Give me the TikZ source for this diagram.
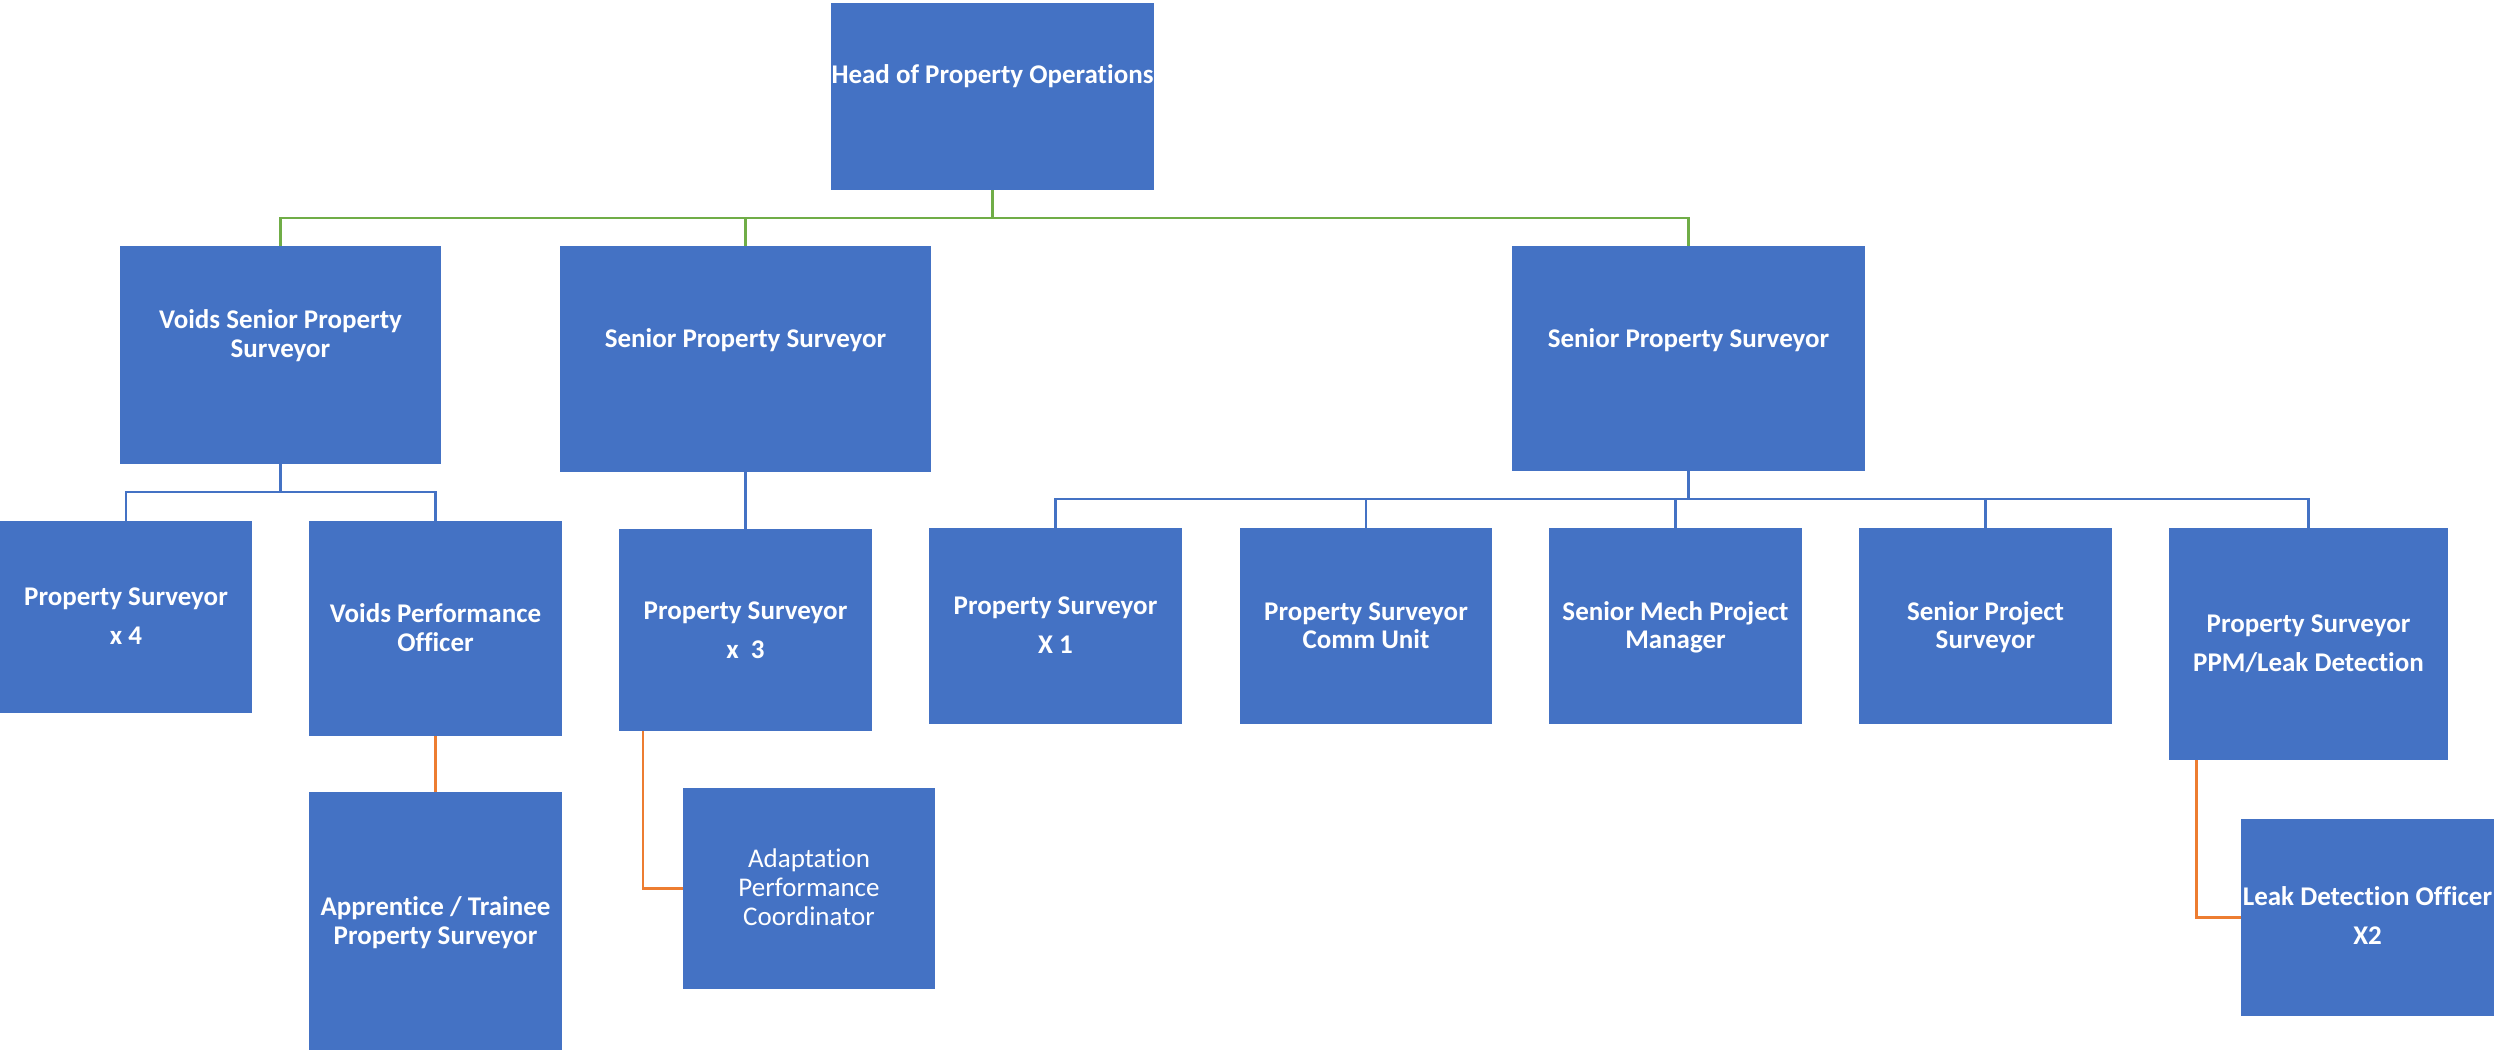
\documentclass[tikz,border=0pt]{standalone}
\usepackage{fontspec}
\setmainfont{Carlito}[Ligatures=NoCommon]
\definecolor{boxblue}{HTML}{4472C4}
\definecolor{lgreen}{HTML}{70AD47}
\definecolor{lorange}{HTML}{ED7D31}
\begin{document}
\begin{tikzpicture}[x=1pt,y=-1pt,
  box/.style={fill=boxblue,draw=none,inner sep=0pt,outer sep=0pt},
  txt/.style={text=white,align=center,anchor=base,inner sep=0pt,font=\fontsize{27}{28.5}\selectfont\bfseries},
  txtr/.style={text=white,align=center,anchor=base,inner sep=0pt,font=\fontsize{27}{29}\selectfont},
  gline/.style={draw=lgreen,line width=2.6pt},
  bline/.style={draw=boxblue,line width=2.6pt},
  oline/.style={draw=lorange,line width=2.6pt}]
\useasboundingbox (0,0) rectangle (2494,1052);
% boxes
\node[box,minimum width=323,minimum height=187] (head) at (992.5,96.5) {};
\node[box,minimum width=321,minimum height=218] (vs) at (280.5,355) {};
\node[box,minimum width=371,minimum height=226] (ss) at (745.5,359) {};
\node[box,minimum width=353,minimum height=225] (rs) at (1688.5,358.5) {};
\node[box,minimum width=252,minimum height=192] (ps4) at (126,617) {};
\node[box,minimum width=253,minimum height=215] (vpo) at (435.5,628.5) {};
\node[box,minimum width=253,minimum height=202] (ps3) at (745.5,630) {};
\node[box,minimum width=253,minimum height=196] (ps1) at (1055.5,626) {};
\node[box,minimum width=252,minimum height=196] (cu) at (1366,626) {};
\node[box,minimum width=253,minimum height=196] (smpm) at (1675.5,626) {};
\node[box,minimum width=253,minimum height=196] (spsv) at (1985.5,626) {};
\node[box,minimum width=279,minimum height=232] (ppm) at (2308.5,644) {};
\node[box,minimum width=253,minimum height=258] (appr) at (435.5,921) {};
\node[box,minimum width=252,minimum height=201] (adapt) at (809,888.5) {};
\node[box,minimum width=253,minimum height=197] (leak) at (2367.5,917.5) {};
% texts (anchor = baseline of the last line)
\node[txt] (thead) at (992.5,83) {Head of Property Operations};
\node[txt] (tvs) at (280.5,357) {Voids Senior Property\\Surveyor};
\node[txt] (tss) at (745.5,347) {Senior Property Surveyor};
\node[txt] (trs) at (1688.5,347) {Senior Property Surveyor};
\node[txt] (tps4) at (126,644) {Property Surveyor\\[10.5pt]x 4};
\node[txt] (tvpo) at (435.5,651) {Voids Performance\\Officer};
\node[txt] (tps3) at (745.5,658) {Property Surveyor\\[10.5pt]x\ \ 3};
\node[txt] (tps1) at (1055.5,653) {Property Surveyor\\[10.5pt]X 1};
\node[txt] (tcu) at (1366,648.5) {Property Surveyor\\Comm Unit};
\node[txt] (tsmpm) at (1675.5,648.5) {Senior Mech Project\\Manager};
\node[txt] (tspsv) at (1985.5,648.5) {Senior Project\\Surveyor};
\node[txt] (tppm) at (2308.5,671.5) {Property Surveyor\\[10.5pt]PPM/Leak Detection};
\node[txt] (tappr) at (435.5,944) {Apprentice / Trainee\\Property Surveyor};
\node[txtr] (tadapt) at (809,925) {Adaptation\\Performance\\Coordinator};
\node[txt] (tleak) at (2367.5,944) {Leak Detection Officer\\[10.5pt]X2};
% bus points
\coordinate (gbus) at (992.5,218);
\coordinate (vbus) at (280.5,492);
\coordinate (rbus) at (1688.5,499);
% green connectors
\draw[gline] (head.south) -- (gbus);
\draw[gline] (vs.north) |- (gbus);
\draw[gline] (ss.north) |- (gbus);
\draw[gline] (rs.north) |- (gbus);
% blue connectors
\draw[bline] (vs.south) -- (vbus);
\draw[bline] (ps4.north) |- (vbus);
\draw[bline] (vpo.north) |- (vbus);
\draw[bline] (ss.south) -- (ps3.north);
\draw[bline] (rs.south) -- (rbus);
\draw[bline] (ps1.north) |- (rbus);
\draw[bline] (cu.north) |- (rbus);
\draw[bline] (smpm.north) |- (rbus);
\draw[bline] (spsv.north) |- (rbus);
\draw[bline] (ppm.north) |- (rbus);
% orange connectors
\draw[oline] (vpo.south) -- (appr.north);
\draw[oline] ([xshift=24pt]ps3.south west) |- (adapt.west);
\draw[oline] ([xshift=27.5pt]ppm.south west) |- (leak.west);
\end{tikzpicture}
\end{document}
